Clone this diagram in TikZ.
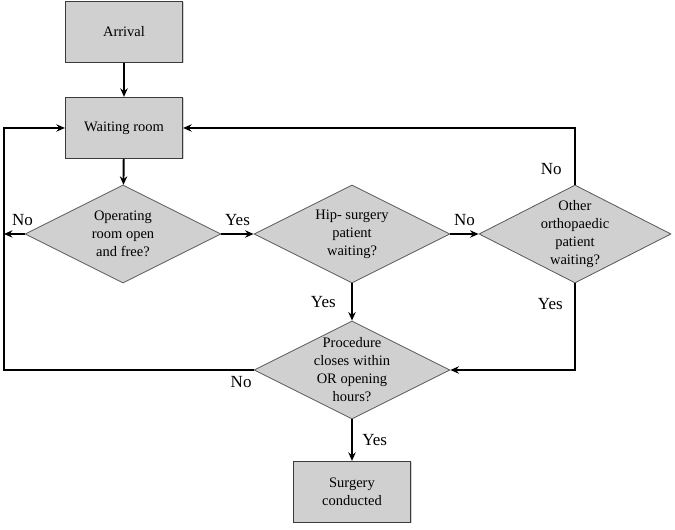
\documentclass[tikz,border=0pt]{standalone}
\usepackage{fontspec}
\setmainfont{Liberation Serif}
\usetikzlibrary{arrows.meta,positioning,shapes.geometric,shadows}
\definecolor{fgray}{HTML}{D0D0D0}
\definecolor{fedge}{HTML}{3A3A3A}
\tikzset{
  >={Stealth[length=3mm,width=2.6mm,inset=1mm]},
  fbox/.style={rectangle, draw=fedge, fill=fgray, line width=1.2pt,
               minimum width=117pt, minimum height=61pt, align=center,
               font=\fontsize{14.5}{18}\selectfont,
               drop shadow={shadow xshift=1pt, shadow yshift=-1pt, fill=black!35}},
  fdec/.style={diamond, draw=fedge!85, fill=fgray, line width=0.8pt,
               minimum width=196pt, minimum height=98pt, inner sep=0pt},
  fdtxt/.style={align=center, font=\fontsize{14.5}{18}\selectfont},
  fflow/.style={->, line width=1.9pt},
  flbl/.style={font=\fontsize{17}{20}\selectfont},
}

\begin{document}
\begin{tikzpicture}[x=1pt,y=1pt]
  \useasboundingbox (0,0) rectangle (675,530);

  % boxes
  \node[fbox] (arr) at (124,498) {Arrival};
  \node[fbox] (wait) at (124,402) {Waiting room};
  \node[fbox] (surg) at (352,38) {Surgery\\conducted};

  % decisions
  \node[fdec, label={[fdtxt]center:Operating\\room open\\and free?}] (d1) at (123,296) {};
  \node[fdec, label={[fdtxt]center:Hip- surgery\\patient\\waiting?}] (d2) at (352,296) {};
  \node[fdec, minimum width=192pt, label={[fdtxt]center:Other\\orthopaedic\\patient\\waiting?}] (d3) at (575,296) {};
  \node[fdec, label={[fdtxt]center:Procedure\\closes within\\OR opening\\hours?}] (d4) at (352,160) {};

  \coordinate (lft) at (4,296);

  % flow
  \draw[fflow] (arr) -- (wait);
  \draw[fflow] (wait) -- (d1);
  \draw[fflow] (d1) -- node[flbl, above=4pt] {Yes} (d2);
  \draw[fflow] (d2) -- node[flbl, above=4pt] {No} (d3);
  \draw[fflow] (d1.west) -- node[flbl, above=4pt, pos=0.1] {No} (lft);
  \draw[fflow] (d2) -- node[flbl, left=12pt] {Yes} (d4);
  \draw[fflow] (d4) -- node[flbl, right=6pt] {Yes} (surg);

  % loops back
  \draw[fflow] (d3.north) |- node[flbl, left=9pt, pos=0.14] {No} (wait.east);
  \draw[fflow] (d3.south) |- node[flbl, left=8pt, pos=0.12] {Yes} (d4.east);
  \draw[fflow] (d4.west) -- node[flbl, below=2pt, pos=0.05] {No} (d4.west -| lft) |- (wait.west);

\end{tikzpicture}
\end{document}
